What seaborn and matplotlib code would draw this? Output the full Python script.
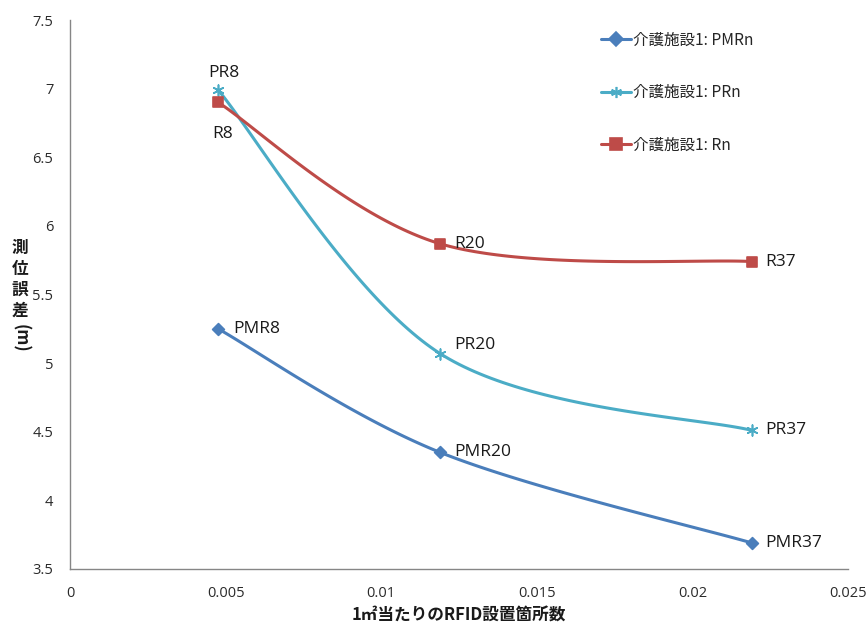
import numpy as np
import pandas as pd
import matplotlib
matplotlib.use("Agg")
import matplotlib.pyplot as plt
from matplotlib.lines import Line2D
import seaborn as sns

# --- data ---------------------------------------------------------------
density = [0.00476, 0.01189, 0.02191]          # RFID tags per m²
pmr_err = [5.25, 4.35, 3.69]
pr_err = [6.99, 5.07, 4.51]
r_err = [6.90, 5.87, 5.74]
pmr_labels = ["PMR8", "PMR20", "PMR37"]
pr_labels = ["PR8", "PR20", "PR37"]
r_labels = ["R8", "R20", "R37"]
series_names = ["介護施設1: PMRn", "介護施設1: PRn", "介護施設1: Rn"]
x_ticks = [0, 0.005, 0.01, 0.015, 0.02, 0.025]
x_tick_labels = ["0", "0.005", "0.01", "0.015", "0.02", "0.025"]
y_ticks = [3.5, 4, 4.5, 5, 5.5, 6, 6.5, 7, 7.5]
y_tick_labels = ["3.5", "4", "4.5", "5", "5.5", "6", "6.5", "7", "7.5"]

sns.set_theme(style="white")
plt.rcParams["font.family"] = ["Noto Sans CJK JP", "DejaVu Sans"]

colors = ["#4A7EBB", "#4BACC6", "#BE4B48"]
markers = ["D", (6, 2, 0), "s"]
msizes = [36, 60, 60]


def smooth(xs, ys, n=60):
    """Catmull-Rom style cubic Bezier smoothing through the points."""
    p = np.column_stack([xs, ys]).astype(float)
    out = []
    for i in range(len(p) - 1):
        p0 = p[i - 1] if i > 0 else p[i]
        p1, p2 = p[i], p[i + 1]
        p3 = p[i + 2] if i + 2 < len(p) else p[i + 1]
        c1 = p1 + (p2 - p0) / 6
        c2 = p2 - (p3 - p1) / 6
        t = np.linspace(0, 1, n)[:, None]
        seg = ((1 - t) ** 3) * p1 + 3 * ((1 - t) ** 2) * t * c1 + 3 * (1 - t) * t ** 2 * c2 + t ** 3 * p2
        out.append(seg if i == 0 else seg[1:])
    s = np.vstack(out)
    return s[:, 0], s[:, 1]


W, H = 868, 626
fig = plt.figure(figsize=(W / 100, H / 100), dpi=100)
ax = fig.add_axes([70 / W, 1 - 569 / H, 778 / W, 549 / H])

all_series = [pmr_err, pr_err, r_err]
for ys, c, m, ms in zip(all_series, colors, markers, msizes):
    sx, sy = smooth(density, ys)
    curve = pd.DataFrame({"x": sx, "y": sy})
    sns.lineplot(data=curve, x="x", y="y", sort=False, color=c, linewidth=2.2, ax=ax, legend=False)
    pts = pd.DataFrame({"x": density, "y": ys})
    sns.scatterplot(data=pts, x="x", y="y", marker=m, s=ms, color=c, edgecolor=c,
                    linewidth=1.2, ax=ax, legend=False, zorder=5)

# point labels
label_font = dict(fontsize=12.5, color="#1a1a1a", family=["Open Sans", "DejaVu Sans"])
offsets = {
    "PMR8": (11, 0, "left", "center"), "PMR20": (10, 0, "left", "center"), "PMR37": (10, 0, "left", "center"),
    "PR8": (4, 12, "center", "center"), "PR20": (10, 6, "left", "center"), "PR37": (10, 0, "left", "center"),
    "R8": (3, -23, "center", "center"), "R20": (10, 0, "left", "center"), "R37": (10, 0, "left", "center"),
}
for ys, labs in zip(all_series, [pmr_labels, pr_labels, r_labels]):
    for xv, yv, lab in zip(density, ys, labs):
        dx, dy, ha, va = offsets[lab]
        ax.annotate(lab, (xv, yv), xytext=(dx, dy), textcoords="offset points",
                    ha=ha, va=va, **label_font)

ax.set_xlim(0, 0.025)
ax.set_ylim(3.5, 7.5)
ax.set_xticks(x_ticks)
ax.set_xticklabels(x_tick_labels)
ax.set_yticks(y_ticks)
ax.set_yticklabels(y_tick_labels)
ax.tick_params(axis="both", direction="out", length=5, width=1, color="#868686",
               labelsize=10.5, labelcolor="#2a2a2a", pad=7)
for lab in ax.get_xticklabels() + ax.get_yticklabels():
    lab.set_family(["Open Sans", "DejaVu Sans"])
for side in ["top", "right"]:
    ax.spines[side].set_visible(False)
for side in ["left", "bottom"]:
    ax.spines[side].set_color("#868686")
    ax.spines[side].set_linewidth(1)

ax.set_xlabel("")
ax.set_ylabel("")
fig.text(459 / W, 1 - 616 / H, "1㎡当たりのRFID設置箇所数", fontsize=12, fontweight="bold",
         color="#1a1a1a", ha="center", va="center")

# vertical y-axis title: upright kanji, rotated parenthesised unit
for ch, yc in zip("測位誤差", [248, 269, 290, 311]):
    fig.text(20 / W, 1 - yc / H, ch, fontsize=12, fontweight="bold", color="#1a1a1a",
             ha="center", va="center")
fig.text(20 / W, 1 - 338 / H, "(m)", fontsize=12, fontweight="bold", color="#1a1a1a",
         ha="center", va="center", rotation=-90)

handles = [Line2D([0], [0], color=c, marker=m, markersize=7 if m == "D" else 8,
                  markeredgecolor=c, linewidth=2.2, markeredgewidth=1.2)
           for c, m in zip(colors, markers)]
ax.legend(handles, series_names, loc="upper left", bbox_to_anchor=(0.675, 0.99),
          frameon=False, fontsize=11.2, labelspacing=2.28, handlelength=1.9,
          handletextpad=0.15, borderaxespad=0)

fig.savefig("out.png", dpi=100)
